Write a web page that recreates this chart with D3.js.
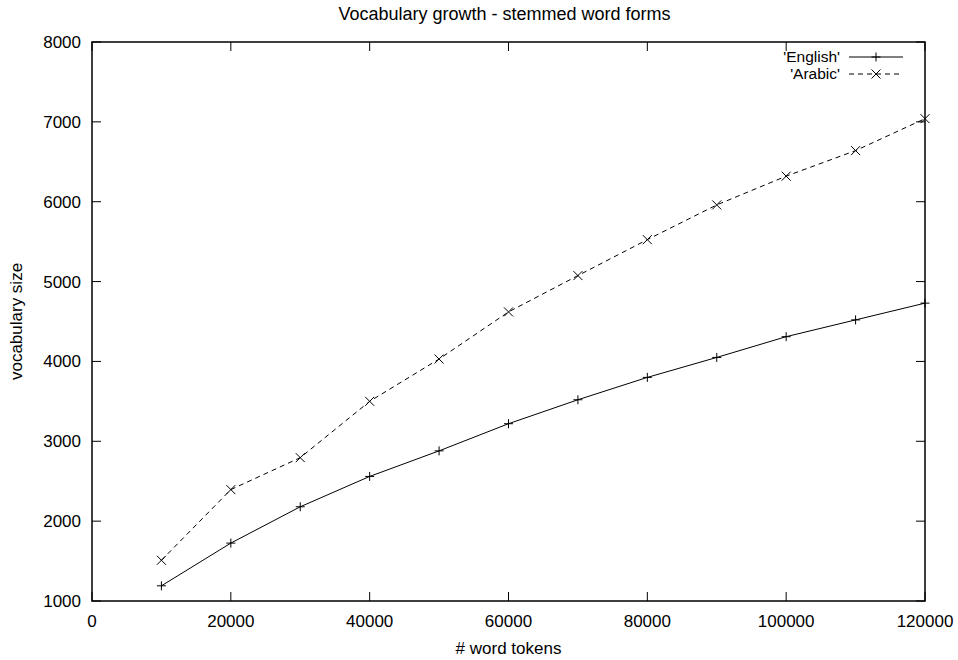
<!DOCTYPE html>
<html>
<head>
<meta charset="utf-8">
<script src="https://cdn.jsdelivr.net/npm/d3@7"></script>
<style>
  body { margin: 0; background: #fff; }
  svg { display: block; }
  text { font-family: "Liberation Sans", Arial, Helvetica, sans-serif; fill: #000; }
</style>
</head>
<body>
<svg id="chart" width="958" height="660"></svg>
<script>
// Data
const tokens = [10000, 20000, 30000, 40000, 50000, 60000, 70000, 80000, 90000, 100000, 110000, 120000];
const english = [1190, 1725, 2180, 2560, 2880, 3220, 3520, 3800, 4050, 4310, 4520, 4730];
const arabic = [1510, 2395, 2795, 3500, 4030, 4620, 5075, 5525, 5960, 6320, 6640, 7040];
const xTicks = [0, 20000, 40000, 60000, 80000, 100000, 120000];
const yTicks = [1000, 2000, 3000, 4000, 5000, 6000, 7000, 8000];

const width = 958;
const height = 660;
const margin = { top: 42, right: 33, bottom: 59, left: 92 };
const fontSize = 17;

const svg = d3.select("#chart");

const x = d3.scaleLinear().domain([0, 120000]).range([margin.left, width - margin.right]);
const y = d3.scaleLinear().domain([1000, 8000]).range([height - margin.bottom, margin.top]);

const tickLen = 9;

// Ticks (inward, mirrored like gnuplot)
const g = svg.append("g");
xTicks.forEach(t => {
  g.append("line").attr("x1", x(t)).attr("x2", x(t))
    .attr("y1", y(1000)).attr("y2", y(1000) - tickLen).attr("stroke", "#000");
  g.append("line").attr("x1", x(t)).attr("x2", x(t))
    .attr("y1", y(8000)).attr("y2", y(8000) + tickLen).attr("stroke", "#000");
  g.append("text").attr("x", x(t)).attr("y", y(1000) + 26)
    .attr("text-anchor", "middle").attr("font-size", fontSize).text(t);
});
yTicks.forEach(t => {
  g.append("line").attr("x1", x(0)).attr("x2", x(0) + tickLen)
    .attr("y1", y(t)).attr("y2", y(t)).attr("stroke", "#000");
  g.append("line").attr("x1", x(120000)).attr("x2", x(120000) - tickLen)
    .attr("y1", y(t)).attr("y2", y(t)).attr("stroke", "#000");
  g.append("text").attr("x", x(0) - 11).attr("y", y(t)).attr("dy", "0.35em")
    .attr("text-anchor", "end").attr("font-size", fontSize).text(t);
});

// Frame
svg.append("rect")
  .attr("x", x(0)).attr("y", y(8000))
  .attr("width", x(120000) - x(0)).attr("height", y(1000) - y(8000))
  .attr("fill", "none").attr("stroke", "#000").attr("stroke-width", 1.5);

// Lines
const line = d3.line().x(d => x(d[0])).y(d => y(d[1]));
const engPts = tokens.map((t, i) => [t, english[i]]);
const araPts = tokens.map((t, i) => [t, arabic[i]]);

svg.append("path").datum(engPts).attr("d", line)
  .attr("fill", "none").attr("stroke", "#000").attr("stroke-width", 1);
svg.append("path").datum(araPts).attr("d", line)
  .attr("fill", "none").attr("stroke", "#000").attr("stroke-width", 1)
  .attr("stroke-dasharray", "5,4");

function plusMark(sel, cx, cy) {
  const s = 4.5;
  sel.append("path").attr("d", `M${cx - s},${cy}H${cx + s}M${cx},${cy - s}V${cy + s}`)
    .attr("stroke", "#000").attr("stroke-width", 1).attr("fill", "none");
}
function crossMark(sel, cx, cy) {
  const s = 4.5;
  sel.append("path").attr("d", `M${cx - s},${cy - s}L${cx + s},${cy + s}M${cx - s},${cy + s}L${cx + s},${cy - s}`)
    .attr("stroke", "#000").attr("stroke-width", 1).attr("fill", "none");
}

const marks = svg.append("g");
engPts.forEach(d => plusMark(marks, x(d[0]), y(d[1])));
araPts.forEach(d => crossMark(marks, x(d[0]), y(d[1])));

// Legend
const legend = svg.append("g");
const legX = 840, legY = 57, legStep = 17;
[["'English'", null, plusMark], ["'Arabic'", "5,4", crossMark]].forEach((item, i) => {
  const ly = legY + i * legStep;
  legend.append("text").attr("x", legX).attr("y", ly).attr("dy", "0.35em")
    .attr("text-anchor", "end").attr("font-size", 15.5).text(item[0]);
  legend.append("line").attr("x1", 849).attr("x2", 903).attr("y1", ly).attr("y2", ly)
    .attr("stroke", "#000").attr("stroke-dasharray", item[1]);
  item[2](legend, 876, ly);
});

// Title and axis labels
svg.append("text").attr("x", (x(0) + x(120000)) / 2 - 4).attr("y", 20)
  .attr("text-anchor", "middle").attr("font-size", 18).text("Vocabulary growth - stemmed word forms");
svg.append("text").attr("x", (x(0) + x(120000)) / 2).attr("y", 654)
  .attr("text-anchor", "middle").attr("font-size", fontSize).text("# word tokens");
svg.append("text").attr("transform", `translate(22,${(y(1000) + y(8000)) / 2}) rotate(-90)`)
  .attr("text-anchor", "middle").attr("font-size", fontSize).text("vocabulary size");
</script>
</body>
</html>
